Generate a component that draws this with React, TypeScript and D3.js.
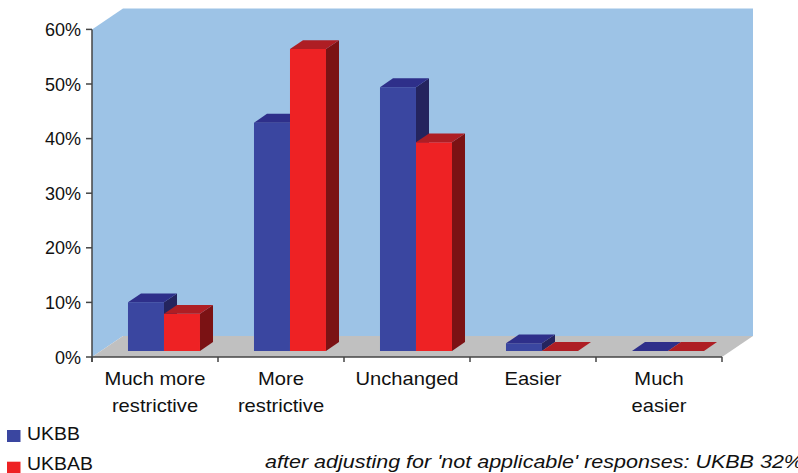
import React, { useEffect, useRef, useState } from "react";
import * as d3 from "d3";

const categories: string[][] = [
  ["Much more", "restrictive"],
  ["More", "restrictive"],
  ["Unchanged"],
  ["Easier"],
  ["Much", "easier"],
];
const seriesNames = ["UKBB", "UKBAB"];
const ukbb = [8.9, 41.8, 48.3, 1.4, 0];
const ukbab = [6.8, 55.3, 38.2, 0, 0];
const yTicks = [0, 10, 20, 30, 40, 50, 60];
const footnote = "after adjusting for 'not applicable' responses: UKBB 32%";

const W = 798;
const H = 473;
const X0 = 92;
const X1 = 722;
const DX = 31;
const DY = 21;
const D0 = 0.29;
const D1 = 0.71;

const colors = {
  UKBB: { front: "#3A46A0", top: "#2E2F8A", side: "#24245E" },
  UKBAB: { front: "#EE2224", top: "#AE1E24", side: "#7B1214" },
};

const FONT = "'Liberation Sans', Arial, Helvetica, sans-serif";

export default function App() {
  const noteRef = useRef<SVGTextElement>(null);
  const [noteScale, setNoteScale] = useState(1.1);
  useEffect(() => {
    if (noteRef.current) {
      const len = noteRef.current.getComputedTextLength();
      if (len > 0) setNoteScale(538 / len);
    }
  }, []);

  const y = d3.scaleLinear().domain([0, 60]).range([357, 29.4]);
  const xCat = d3
    .scaleBand<number>()
    .domain(categories.map((_, i) => i))
    .range([X0, X1])
    .padding(0);
  const xSer = d3
    .scaleBand<string>()
    .domain(seriesNames)
    .range([27, 99])
    .padding(0);

  const proj = (x: number, v: number, d: number): [number, number] => [
    x + d * DX,
    y(v) - d * DY,
  ];
  const pts = (arr: [number, number][]) => arr.map((p) => p.join(",")).join(" ");

  const yTop = 60;
  const leftWall = [proj(X0, 0, 0), proj(X0, yTop, 0), proj(X0, yTop, 1), proj(X0, 0, 1)];
  const backWall = [proj(X0, yTop, 1), proj(X1, yTop, 1), proj(X1, 0, 1), proj(X0, 0, 1)];
  const floor = [proj(X0, 0, 0), proj(X1, 0, 0), proj(X1, 0, 1), proj(X0, 0, 1)];

  const bars: React.ReactNode[] = [];
  categories.forEach((_, i) => {
    seriesNames.forEach((s, si) => {
      const v = si === 0 ? ukbb[i] : ukbab[i];
      const xl = (xCat(i) as number) + (xSer(s) as number);
      const xr = xl + xSer.bandwidth();
      const c = (colors as any)[s];
      const front = [proj(xl, 0, D0), proj(xr, 0, D0), proj(xr, v, D0), proj(xl, v, D0)];
      const top = [proj(xl, v, D0), proj(xr, v, D0), proj(xr, v, D1), proj(xl, v, D1)];
      const side = [proj(xr, 0, D0), proj(xr, 0, D1), proj(xr, v, D1), proj(xr, v, D0)];
      bars.push(
        <g key={`${i}-${s}`}>
          {v > 0 && <polygon points={pts(front)} fill={c.front} />}
          {v > 0 && <polygon points={pts(side)} fill={c.side} />}
          <polygon points={pts(top)} fill={c.top} />
        </g>
      );
    });
  });

  const axisColor = "#444";

  return (
    <svg
      width={W}
      height={H}
      style={{ position: "absolute", left: 0, top: 0, background: "#fff" }}
      fontFamily={FONT}
    >
      <polygon points={pts(leftWall)} fill="#9DC3E6" />
      <polygon points={pts(backWall)} fill="#9DC3E6" />
      <polygon points={pts(floor)} fill="#C0C0C0" />
      {bars}
      {/* axes */}
      <line x1={X0} x2={X0} y1={y(60)} y2={y(0) + 5} stroke={axisColor} strokeWidth={1.5} />
      <line x1={X0} x2={X1} y1={y(0)} y2={y(0)} stroke={axisColor} strokeWidth={1.5} />
      {yTicks.map((t) => (
        <g key={t}>
          <line x1={X0 - 6} x2={X0} y1={y(t)} y2={y(t)} stroke={axisColor} strokeWidth={1.5} />
          <text x={81} y={y(t) + 6.5} textAnchor="end" fontSize={18} fill="#111">
            {t}%
          </text>
        </g>
      ))}
      {d3.range(categories.length + 1).map((i) => {
        const xx = X0 + i * xCat.step();
        return (
          <line key={i} x1={xx} x2={xx} y1={y(0)} y2={y(0) + 5} stroke={axisColor} strokeWidth={1.5} />
        );
      })}
      {categories.map((lines, i) => (
        <g
          key={i}
          transform={`translate(${(xCat(i) as number) + xCat.bandwidth() / 2}, 384.5) scale(1.12, 1)`}
        >
          <text x={0} y={0} textAnchor="middle" fontSize={18} fill="#111">
            {lines.map((l, j) => (
              <tspan key={j} x={0} dy={j === 0 ? 0 : 27.5}>
                {l}
              </tspan>
            ))}
          </text>
        </g>
      ))}
      {/* legend */}
      {seriesNames.map((s, i) => (
        <g key={s}>
          <rect x={7} y={430 + i * 31.7} width={13.5} height={12} fill={(colors as any)[s].front} />
          <g transform={`translate(27, ${440 + i * 30}) scale(1.08, 1)`}>
            <text x={0} y={0} fontSize={18} fill="#111">
              {s}
            </text>
          </g>
        </g>
      ))}
      <g transform={`translate(265, 468) scale(${noteScale}, 1)`}>
        <text ref={noteRef} x={0} y={0} fontSize={18} fontStyle="italic" fill="#111">
          {footnote}
        </text>
      </g>
    </svg>
  );
}
